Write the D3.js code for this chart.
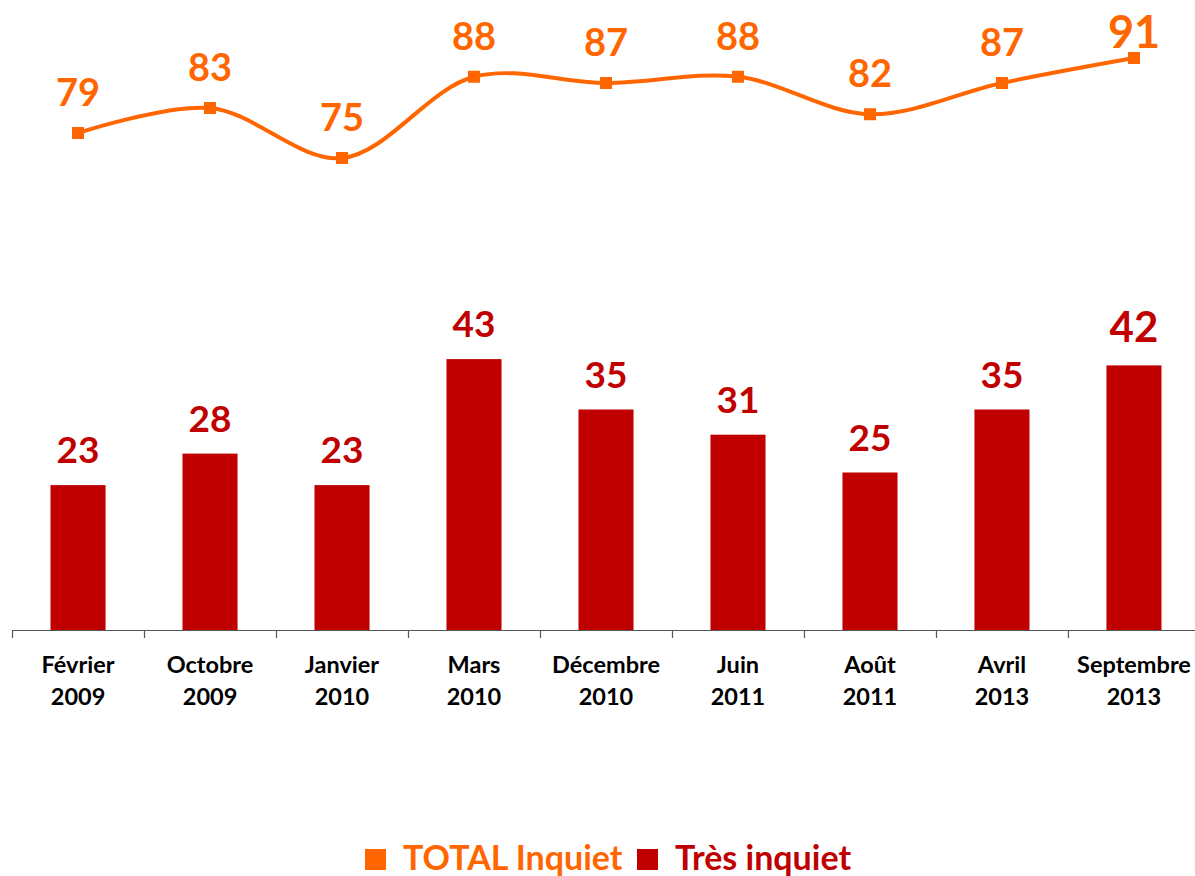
<!DOCTYPE html>
<html>
<head>
<meta charset="utf-8">
<script src="https://cdn.jsdelivr.net/npm/d3@7"></script>
<style>
  body { margin: 0; background: #fff; }
  svg { display: block; }
  text { font-family: Lato, "Open Sans", "Liberation Sans", sans-serif; font-weight: 700; }
</style>
</head>
<body>
<svg id="chart" width="1195" height="876"></svg>
<script>
// Survey waves (label line 1, label line 2)
const periods = ["Février", "Octobre", "Janvier", "Mars", "Décembre", "Juin", "Août", "Avril", "Septembre"];
const years   = ["2009", "2009", "2010", "2010", "2010", "2011", "2011", "2013", "2013"];
// Share of respondents (%)
const totalInquiet = [79, 83, 75, 88, 87, 88, 82, 87, 91];
const tresInquiet  = [23, 28, 23, 43, 35, 31, 25, 35, 42];
const seriesNames  = ["TOTAL Inquiet", "Très inquiet"];

const ORANGE = "#FF6600";
const RED = "#C00000";

const keys = periods.map((p, i) => p + " " + years[i]);
const last = keys.length - 1;
const svg = d3.select("#chart");

const x = d3.scaleBand()
  .domain(keys)
  .range([12, 1200])
  .paddingInner(0.583)
  .paddingOuter(0.2917);
const cx = k => x(k) + x.bandwidth() / 2;

// Bars on the primary axis, line on a secondary axis
const yBar = d3.scaleLinear().domain([0, 50]).range([630, 630 - 50 * 6.30]);
const yLine = d3.scaleLinear().domain([0, 100]).range([626.75, 1.75]);

// Bars
svg.append("g").selectAll("rect")
  .data(keys)
  .join("rect")
  .attr("x", k => x(k))
  .attr("width", x.bandwidth())
  .attr("y", (k, i) => yBar(tresInquiet[i]))
  .attr("height", (k, i) => yBar(0) - yBar(tresInquiet[i]))
  .attr("fill", RED);

// Bar value labels (latest wave emphasised)
svg.append("g").selectAll("text")
  .data(keys)
  .join("text")
  .attr("x", k => cx(k))
  .attr("y", (k, i) => yBar(tresInquiet[i]) - (i === last ? 23 : 22))
  .attr("text-anchor", "middle")
  .attr("font-size", (k, i) => i === last ? 42 : 37)
  .attr("fill", RED)
  .text((k, i) => tresInquiet[i]);

// Category axis: baseline and boundary ticks
const axis = svg.append("g");
axis.append("line")
  .attr("x1", x.range()[0]).attr("x2", x.range()[1])
  .attr("y1", 630.5).attr("y2", 630.5)
  .attr("stroke", "#555").attr("stroke-width", 1.2);
axis.selectAll("line.tick")
  .data(d3.range(keys.length + 1))
  .join("line")
  .attr("class", "tick")
  .attr("x1", i => x.range()[0] + i * x.step() + 0.5)
  .attr("x2", i => x.range()[0] + i * x.step() + 0.5)
  .attr("y1", 630).attr("y2", 638)
  .attr("stroke", "#555").attr("stroke-width", 1.2);

const catLabels = axis.selectAll("text")
  .data(keys)
  .join("text")
  .attr("text-anchor", "middle")
  .attr("font-size", 23.5)
  .attr("fill", "#000");
catLabels.append("tspan").attr("x", k => cx(k)).attr("y", 673).text((k, i) => periods[i]);
catLabels.append("tspan").attr("x", k => cx(k)).attr("y", 705).text((k, i) => years[i]);

// Total line (smoothed)
const line = d3.line()
  .x(k => cx(k))
  .y((k, i) => yLine(totalInquiet[i]))
  .curve(d3.curveCatmullRom.alpha(0.5));
svg.append("path")
  .datum(keys)
  .attr("d", line)
  .attr("fill", "none")
  .attr("stroke", ORANGE)
  .attr("stroke-width", 4);

svg.append("g").selectAll("rect")
  .data(keys)
  .join("rect")
  .attr("x", k => cx(k) - 6)
  .attr("y", (k, i) => yLine(totalInquiet[i]) - 6)
  .attr("width", 12).attr("height", 12)
  .attr("fill", ORANGE);

svg.append("g").selectAll("text")
  .data(keys)
  .join("text")
  .attr("x", k => cx(k))
  .attr("y", (k, i) => yLine(totalInquiet[i]) - (i === last ? 10 : 27))
  .attr("text-anchor", "middle")
  .attr("font-size", (k, i) => i === last ? 45 : 38)
  .attr("fill", ORANGE)
  .text((k, i) => totalInquiet[i]);

// Legend
const legend = svg.append("g");
const legendItems = [
  { name: seriesNames[0], color: ORANGE, sx: 365, tx: 403 },
  { name: seriesNames[1], color: RED, sx: 637, tx: 675 }
];
legend.selectAll("rect")
  .data(legendItems)
  .join("rect")
  .attr("x", d => d.sx).attr("y", 849)
  .attr("width", 21).attr("height", 21)
  .attr("fill", d => d.color);
legend.selectAll("text")
  .data(legendItems)
  .join("text")
  .attr("x", d => d.tx).attr("y", 870)
  .attr("font-size", 34)
  .attr("fill", d => d.color)
  .text(d => d.name);
</script>
</body>
</html>
